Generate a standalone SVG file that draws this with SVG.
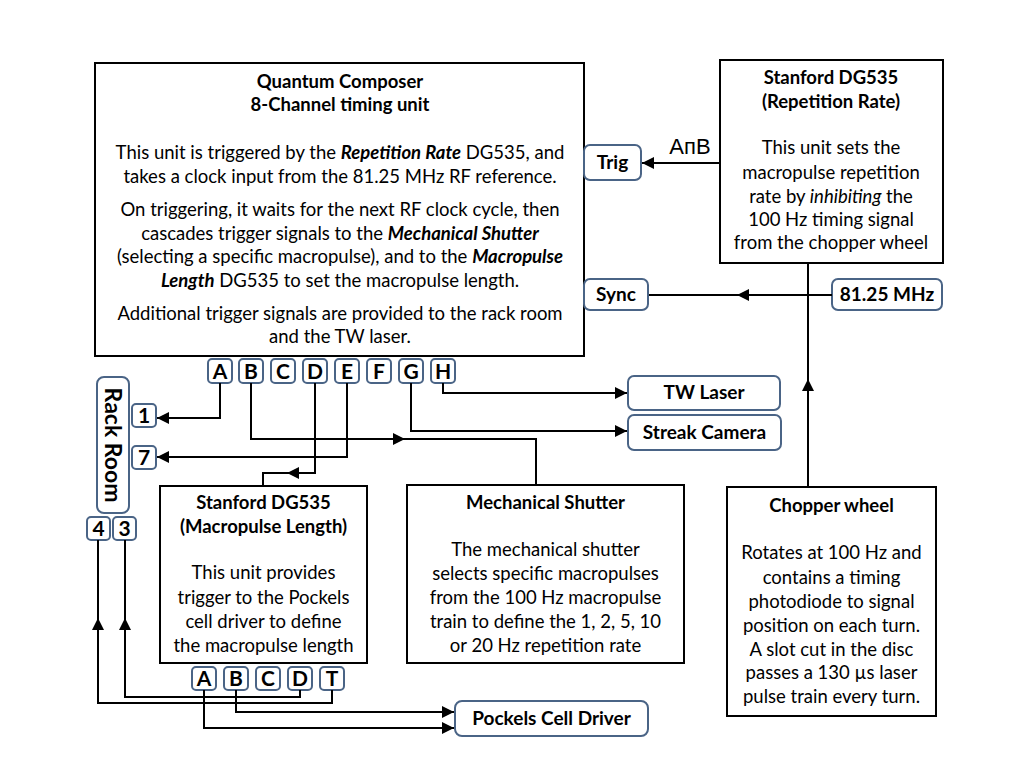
<svg xmlns="http://www.w3.org/2000/svg" width="1024" height="768" viewBox="0 0 1024 768">
<defs>
<marker id="arr" markerUnits="userSpaceOnUse" markerWidth="13" markerHeight="13" refX="12" refY="6" orient="auto">
<path d="M0,0 L12,6 L0,12 z" fill="#000"/>
</marker>
<style>
.box{fill:#fff;stroke:#000;stroke-width:2}
.port{fill:#fff;stroke:#4a6486;stroke-width:2}
.t{font-family:Lato,"Open Sans","Liberation Sans",sans-serif;font-size:18.5px;fill:#000;text-anchor:middle}
.b{font-weight:bold}
.bi{font-weight:bold;font-style:italic}
.i{font-style:italic}
.pl{font-family:Lato,"Open Sans","Liberation Sans",sans-serif;font-size:21px;font-weight:bold;fill:#000;text-anchor:middle}
.lbl{font-family:Lato,"Open Sans","Liberation Sans",sans-serif;font-size:19px;font-weight:bold;fill:#000;text-anchor:middle}
.c{fill:none;stroke:#000;stroke-width:2}
</style>
</defs>
<rect width="1024" height="768" fill="#fff"/>

<g id="quantum-composer">
<rect class="box" x="95" y="63" width="489" height="293"/>
<text class="t b" x="340" y="88">Quantum Composer</text>
<text class="t b" x="340" y="111">8-Channel timing unit</text>
<text class="t" x="340" y="159">This unit is triggered by the <tspan class="bi">Repetition Rate</tspan> DG535, and</text>
<text class="t" x="340" y="183">takes a clock input from the 81.25 MHz RF reference.</text>
<text class="t" x="340" y="216">On triggering, it waits for the next RF clock cycle, then</text>
<text class="t" x="340" y="240">cascades trigger signals to the <tspan class="bi">Mechanical Shutter</tspan></text>
<text class="t" x="340" y="263">(selecting a specific macropulse), and to the <tspan class="bi">Macropulse</tspan></text>
<text class="t" x="340" y="287"><tspan class="bi">Length</tspan> DG535 to set the macropulse length.</text>
<text class="t" x="340" y="320">Additional trigger signals are provided to the rack room</text>
<text class="t" x="340" y="343">and the TW laser.</text>
</g>

<g id="qc-ports">
<rect class="port" x="208" y="359" width="24" height="24" rx="4"/><text class="pl" x="220" y="379">A</text>
<rect class="port" x="239" y="359" width="24" height="24" rx="4"/><text class="pl" x="251" y="379">B</text>
<rect class="port" x="271" y="359" width="24" height="24" rx="4"/><text class="pl" x="283" y="379">C</text>
<rect class="port" x="303" y="359" width="24" height="24" rx="4"/><text class="pl" x="315" y="379">D</text>
<rect class="port" x="335" y="359" width="24" height="24" rx="4"/><text class="pl" x="347" y="379">E</text>
<rect class="port" x="367" y="359" width="24" height="24" rx="4"/><text class="pl" x="379" y="379">F</text>
<rect class="port" x="399" y="359" width="24" height="24" rx="4"/><text class="pl" x="411" y="379">G</text>
<rect class="port" x="431" y="359" width="24" height="24" rx="4"/><text class="pl" x="443" y="379">H</text>
</g>

<g id="dg535-rep">
<rect class="box" x="720" y="60" width="223" height="203"/>
<text class="t b" x="831" y="84">Stanford DG535</text>
<text class="t b" x="831" y="108">(Repetition Rate)</text>
<text class="t" x="831" y="154">This unit sets the</text>
<text class="t" x="831" y="179">macropulse repetition</text>
<text class="t" x="831" y="203">rate by <tspan class="i">inhibiting</tspan> the</text>
<text class="t" x="831" y="226">100 Hz timing signal</text>
<text class="t" x="831" y="249">from the chopper wheel</text>
</g>

<g id="trig">
<rect class="port" x="584" y="145" width="57" height="35" rx="6"/>
<text class="lbl" x="612.5" y="169">Trig</text>
</g>

<g id="sync">
<rect class="port" x="584" y="279" width="64" height="31" rx="6"/>
<text class="lbl" x="616" y="301">Sync</text>
</g>

<g id="rf-ref">
<rect class="port" x="832" y="279" width="110" height="31" rx="6"/>
<text class="lbl" x="887" y="301">81.25 MHz</text>
</g>

<g id="tw-laser">
<rect class="port" x="628" y="376" width="152" height="34" rx="6"/>
<text class="lbl" x="704" y="399">TW Laser</text>
</g>

<g id="streak-camera">
<rect class="port" x="628" y="415" width="153" height="35" rx="6"/>
<text class="lbl" x="704.5" y="439">Streak Camera</text>
</g>

<g id="rack-room">
<rect class="port" x="97" y="377" width="32" height="136" rx="7"/>
<text class="pl" x="0" y="0" transform="translate(105,445) rotate(90)" style="font-size:23px">Rack Room</text>
<rect class="port" x="132" y="404" width="24" height="23" rx="4"/><text class="pl" x="144" y="423">1</text>
<rect class="port" x="132" y="446" width="24" height="23" rx="4"/><text class="pl" x="144" y="465">7</text>
<rect class="port" x="87" y="517" width="23" height="23" rx="4"/><text class="pl" x="98.5" y="536">4</text>
<rect class="port" x="113" y="517" width="23" height="23" rx="4"/><text class="pl" x="124.5" y="536">3</text>
</g>

<g id="dg535-macro">
<rect class="box" x="160" y="486" width="207" height="177"/>
<text class="t b" x="263.5" y="509">Stanford DG535</text>
<text class="t b" x="263.5" y="533">(Macropulse Length)</text>
<text class="t" x="263.5" y="579">This unit provides</text>
<text class="t" x="263.5" y="604">trigger to the Pockels</text>
<text class="t" x="263.5" y="628">cell driver to define</text>
<text class="t" x="263.5" y="652">the macropulse length</text>
</g>

<g id="macro-ports">
<rect class="port" x="192" y="667" width="24" height="23" rx="4"/><text class="pl" x="204" y="686">A</text>
<rect class="port" x="224" y="667" width="24" height="23" rx="4"/><text class="pl" x="236" y="686">B</text>
<rect class="port" x="256" y="667" width="24" height="23" rx="4"/><text class="pl" x="268" y="686">C</text>
<rect class="port" x="288" y="667" width="24" height="23" rx="4"/><text class="pl" x="300" y="686">D</text>
<rect class="port" x="320" y="667" width="24" height="23" rx="4"/><text class="pl" x="332" y="686">T</text>
</g>

<g id="mechanical-shutter">
<rect class="box" x="407" y="485" width="277" height="178"/>
<text class="t b" x="545.5" y="509">Mechanical Shutter</text>
<text class="t" x="545.5" y="556">The mechanical shutter</text>
<text class="t" x="545.5" y="580">selects specific macropulses</text>
<text class="t" x="545.5" y="604">from the 100 Hz macropulse</text>
<text class="t" x="545.5" y="628">train to define the 1, 2, 5, 10</text>
<text class="t" x="545.5" y="652">or 20 Hz repetition rate</text>
</g>

<g id="chopper-wheel">
<rect class="box" x="727" y="487" width="209" height="229"/>
<text class="t b" x="831.5" y="512">Chopper wheel</text>
<text class="t" x="831.5" y="559">Rotates at 100 Hz and</text>
<text class="t" x="831.5" y="584">contains a timing</text>
<text class="t" x="831.5" y="608">photodiode to signal</text>
<text class="t" x="831.5" y="632">position on each turn.</text>
<text class="t" x="831.5" y="656">A slot cut in the disc</text>
<text class="t" x="831.5" y="679">passes a 130 µs laser</text>
<text class="t" x="831.5" y="703">pulse train every turn.</text>
</g>

<g id="pockels-cell-driver">
<rect class="port" x="455" y="701" width="193" height="35" rx="7"/>
<text class="lbl" x="551.5" y="725">Pockels Cell Driver</text>
</g>

<g id="connectors">
<path class="c" d="M220,383 V418 H157" marker-end="url(#arr)"/>
<path class="c" d="M347,383 V457 H157" marker-end="url(#arr)"/>
<path class="c" d="M251,383 V439 H405" marker-end="url(#arr)"/>
<path class="c" d="M404,439 H536 V485"/>
<path class="c" d="M315,383 V473 H287" marker-end="url(#arr)"/>
<path class="c" d="M288,473 H263 V486"/>
<path class="c" d="M411,383 V431 H627" marker-end="url(#arr)"/>
<path class="c" d="M443,383 V393 H627" marker-end="url(#arr)"/>
<path class="c" d="M720,163 H642" marker-end="url(#arr)"/>
<text x="690" y="154" style="font-family:'Liberation Sans',Arial,sans-serif;font-size:22px;fill:#000;text-anchor:middle">AпB</text>
<path class="c" d="M832,295 H737" marker-end="url(#arr)"/>
<path class="c" d="M738,295 H649"/>
<path class="c" d="M808,487 V379" marker-end="url(#arr)"/>
<path class="c" d="M808,380 V263"/>
<path class="c" d="M300,690 V697 H125 V618" marker-end="url(#arr)"/>
<path class="c" d="M125,619 V540"/>
<path class="c" d="M332,690 V703 H98 V618" marker-end="url(#arr)"/>
<path class="c" d="M98,619 V540"/>
<path class="c" d="M236,690 V712 H454" marker-end="url(#arr)"/>
<path class="c" d="M204,690 V728 H454" marker-end="url(#arr)"/>
</g>
</svg>
